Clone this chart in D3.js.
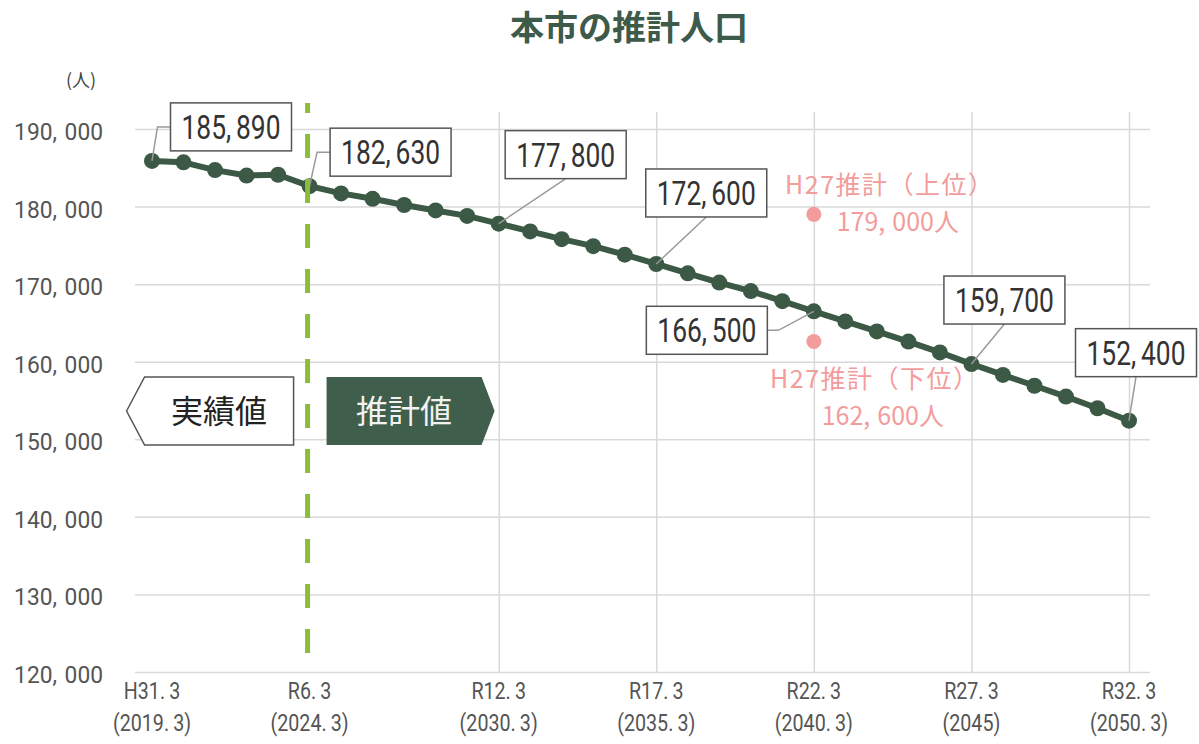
<!DOCTYPE html>
<html>
<head>
<meta charset="utf-8">
<script src="https://cdn.jsdelivr.net/npm/d3@7"></script>
<style>
  body { margin: 0; background: #ffffff; }
  svg { display: block; }
</style>
</head>
<body>
<svg id="chart" width="1199" height="744"></svg>
<script>
// ---- data ----
const years = [2019, 2020, 2021, 2022, 2023, 2024, 2025, 2026, 2027, 2028, 2029,
               2030, 2031, 2032, 2033, 2034, 2035, 2036, 2037, 2038, 2039,
               2040, 2041, 2042, 2043, 2044, 2045, 2046, 2047, 2048, 2049, 2050];
const population = [185890, 185700, 184700, 184000, 184100, 182630, 181700, 181000, 180200, 179500, 178800,
                     177800, 176800, 175800, 174900, 173800, 172600, 171400, 170200, 169100, 167800,
                     166500, 165200, 163900, 162600, 161200, 159700, 158300, 156900, 155500, 154000, 152400];
const labeledYears = [2019, 2024, 2030, 2035, 2040, 2045, 2050];
const actualEndYear = 2024;

const tickYears = [2019, 2024, 2030, 2035, 2040, 2045, 2050];
const tickEra = ["H31.3", "R6.3", "R12.3", "R17.3", "R22.3", "R27.3", "R32.3"];
const tickWestern = ["(2019.3)", "(2024.3)", "(2030.3)", "(2035.3)", "(2040.3)", "(2045)", "(2050.3)"];
const gridYears = [2030, 2035, 2040, 2045, 2050];
const yTicks = [120000, 130000, 140000, 150000, 160000, 170000, 180000, 190000];

const h27Names = ["H27推計（上位）", "H27推計（下位）"];
const h27Years = [2040, 2040];
const h27Values = [179000, 162600];

// ---- layout ----
const plot = { left: 135, right: 1150, top: 112, bottom: 672 };
const dark = "#3b5944";
const pink = "#f39c9c";
const numFont = "Roboto, 'Noto Sans', sans-serif";
const jpFont = "'Noto Sans CJK JP', 'Noto Sans', sans-serif";

// label box placement relative to its point: box centre offset and leader style
const labelLayout = {
  2019: { dx: 79, dy: -34, leader: "left" },
  2024: { dx: 81, dy: -34, leader: "left" },
  2030: { dx: 67, dy: -69, leader: "bottom" },
  2035: { dx: 50, dy: -71, leader: "bottom" },
  2040: { dx: -107, dy: 19, leader: "right" },
  2045: { dx: 33, dy: -64, leader: "bottom" },
  2050: { dx: 7, dy: -68, leader: "bottom" }
};
const boxW = 121, boxH = 48;

const svg = d3.select("#chart");
const x = d3.scaleLinear().domain([2019, 2050]).range([152, 1129]);
const y = d3.scaleLinear().domain([120000, 190000]).range([plot.bottom, 129]);
const fmt = d3.format(",");

// text with a small gap after "," and "." and optional horizontal squeeze
function numText(g, str, o) {
  const t = g.append("text")
    .attr("transform", `translate(${o.x},${o.y}) scale(${o.sx || 1},1)`)
    .attr("text-anchor", o.anchor || "middle")
    .attr("font-size", o.size)
    .attr("font-family", o.family || numFont)
    .attr("fill", o.fill || "#333");
  const parts = str.split(/(?<=[,.])/);
  t.selectAll("tspan").data(parts).join("tspan")
    .attr("dx", (d, i) => i ? o.gap : null)
    .text(d => d);
  return t;
}

// ---- title ----
svg.append("text")
  .attr("x", 629).attr("y", 40)
  .attr("text-anchor", "middle")
  .attr("font-family", jpFont).attr("font-weight", "bold")
  .attr("font-size", 34).attr("fill", "#3d5a4a")
  .text("本市の推計人口");

svg.append("text")
  .attr("x", 81).attr("y", 87)
  .attr("text-anchor", "middle")
  .attr("font-family", jpFont).attr("font-size", 18).attr("fill", "#444")
  .text("(人)");

// ---- gridlines ----
const gy = svg.append("g")
  .attr("transform", `translate(${plot.left},0)`)
  .call(d3.axisLeft(y).tickValues(yTicks).tickSize(-(plot.right - plot.left)).tickFormat(""));
gy.select(".domain").remove();
gy.selectAll(".tick line").attr("stroke", "#d9d9d9").attr("stroke-width", 1.5);

const gx = svg.append("g")
  .attr("transform", `translate(0,${plot.bottom})`)
  .call(d3.axisBottom(x).tickValues(gridYears).tickSize(-(plot.bottom - plot.top)).tickFormat(""));
gx.select(".domain").remove();
gx.selectAll(".tick line").attr("stroke", "#d9d9d9").attr("stroke-width", 1.5);

// ---- axis labels ----
yTicks.forEach(v => {
  numText(svg, fmt(v), { x: 103, y: y(v) + 11, size: 24, sx: 0.95, gap: 8, anchor: "end", fill: "#555" });
});
tickYears.forEach((yr, i) => {
  numText(svg, tickEra[i], { x: x(yr), y: 699, size: 24, sx: 0.82, gap: 5, fill: "#555" });
  numText(svg, tickWestern[i], { x: x(yr), y: 731, size: 24, sx: 0.82, gap: 5, fill: "#555" });
});

// ---- actual / projected tags ----
const midY = 411, tagTop = 377, tagBot = 445;
const xa = x(actualEndYear);
const leftTag = [[xa - 183, midY], [xa - 165, tagTop], [xa - 16, tagTop], [xa - 16, tagBot], [xa - 165, tagBot]];
const rightTag = [[xa + 17, tagTop], [xa + 172, tagTop], [xa + 185, midY], [xa + 172, tagBot], [xa + 17, tagBot]];
svg.append("path").attr("d", d3.line()(leftTag) + "Z")
  .attr("fill", "#fff").attr("stroke", "#555").attr("stroke-width", 1.5);
svg.append("path").attr("d", d3.line()(rightTag) + "Z")
  .attr("fill", "#3f5e4b");
svg.append("text").attr("x", (xa - 165 + xa - 16) / 2).attr("y", midY + 12)
  .attr("text-anchor", "middle").attr("font-family", jpFont).attr("font-size", 32).attr("fill", "#222")
  .text("実績値");
svg.append("text").attr("x", (xa + 17 + xa + 172) / 2).attr("y", midY + 12)
  .attr("text-anchor", "middle").attr("font-family", jpFont).attr("font-size", 32).attr("fill", "#f2f2f2")
  .text("推計値");

// ---- population series ----
const pts = years.map((yr, i) => ({ year: yr, value: population[i] }));
svg.append("path")
  .datum(pts)
  .attr("d", d3.line().x(d => x(d.year)).y(d => y(d.value)))
  .attr("fill", "none").attr("stroke", dark).attr("stroke-width", 6).attr("stroke-linejoin", "round");
svg.append("g").selectAll("circle").data(pts).join("circle")
  .attr("cx", d => x(d.year)).attr("cy", d => y(d.value)).attr("r", 8)
  .attr("fill", dark);

// boundary between actual and projected values
svg.append("line")
  .attr("x1", xa - 2).attr("x2", xa - 2).attr("y1", 103).attr("y2", 668)
  .attr("stroke", "#8cbd3a").attr("stroke-width", 5)
  .attr("stroke-dasharray", "24,21").attr("stroke-dashoffset", 14);

// ---- H27 projections ----
h27Values.forEach((v, i) => {
  svg.append("circle").attr("cx", x(h27Years[i])).attr("cy", y(v)).attr("r", 7.5).attr("fill", pink);
});
const annX = x(2040);
const annos = [
  { name: h27Names[0], value: h27Values[0], nameY: 194, valY: 231, nameDx: 76, valDx: 84 },
  { name: h27Names[1], value: h27Values[1], nameY: 388, valY: 425, nameDx: 61, valDx: 69 }
];
annos.forEach(a => {
  svg.append("text").attr("x", annX + a.nameDx).attr("y", a.nameY)
    .attr("text-anchor", "middle").attr("font-family", jpFont).attr("font-size", 25)
    .attr("letter-spacing", 1.5).attr("fill", pink)
    .text(a.name);
  numText(svg, fmt(a.value) + "人", { x: annX + a.valDx, y: a.valY, size: 25, sx: 1, gap: 7, fill: pink, family: jpFont });
});

// ---- value labels ----
const lab = svg.append("g");
labeledYears.forEach(yr => {
  const v = population[years.indexOf(yr)];
  const px = x(yr), py = y(v);
  const L = labelLayout[yr];
  const cx = px + L.dx, cy = py + L.dy;
  let leader;
  if (L.leader === "left") leader = [[px, py], [cx - boxW / 2 - 13, cy], [cx - boxW / 2, cy]];
  else if (L.leader === "right") leader = [[px, py], [cx + boxW / 2 + 11, cy], [cx + boxW / 2, cy]];
  else leader = [[px, py], [cx, cy + boxH / 2]];
  lab.append("path").attr("d", d3.line()(leader))
    .attr("fill", "none").attr("stroke", "#9a9a9a").attr("stroke-width", 1.5);
  lab.append("rect")
    .attr("x", cx - boxW / 2).attr("y", cy - boxH / 2).attr("width", boxW).attr("height", boxH)
    .attr("fill", "#fff").attr("stroke", "#555").attr("stroke-width", 1.5);
  numText(lab, fmt(v), { x: cx, y: cy + 12, size: 33, sx: 0.8, gap: 6, fill: "#333" });
});
</script>
</body>
</html>
